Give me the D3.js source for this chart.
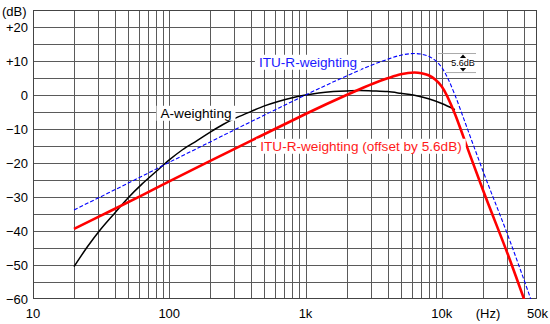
<!DOCTYPE html>
<html>
<head>
<meta charset="utf-8">
<script src="https://cdn.jsdelivr.net/npm/d3@7"></script>
<style>
html,body{margin:0;padding:0;background:#fff;}
svg text{font-family:"Liberation Sans",Arial,sans-serif;}
</style>
</head>
<body>
<svg id="chart" width="550" height="324"></svg>
<script>
// ---- data ----
const aFreq = [20,25,31.5,40,50,63,80,100,125,160,200,250,315,400,500,630,800,1000,1250,1600,2000,2500,3150,4000,5000,6300,8000,10000,12500];
const aDb   = [-50.5,-44.7,-39.4,-34.6,-30.2,-26.2,-22.5,-19.1,-16.1,-13.4,-10.9,-8.6,-6.6,-4.8,-3.2,-1.9,-0.8,0,0.6,1.0,1.2,1.3,1.2,1.0,0.5,-0.1,-1.1,-2.5,-4.3];

const ituFreq = [20,31.5,63,100,200,400,800,1000,2000,3150,4000,5000,6300,7100,8000,9000,10000,12500,14000,16000,20000,31500,45000];
const ituDb   = [-33.8,-29.9,-23.9,-19.8,-13.8,-7.8,-1.9,0,5.6,9.0,10.5,11.7,12.2,12.0,11.4,10.1,8.1,0,-5.3,-11.7,-22.2,-42.7,-60.0];
const ituOffDb = [-39.4,-35.5,-29.5,-25.4,-19.4,-13.4,-7.5,-5.6,0,3.4,4.9,6.1,6.6,6.4,5.8,4.5,2.5,-5.6,-10.9,-17.3,-27.8,-48.3,-65.6];

const xTickVals = [10,100,1000,10000,50000];
const xTickLabels = ["10","100","1k","10k","50k"];
const yTickVals = [20,10,0,-10,-20,-30,-40,-50,-60];
const yTickLabels = ["+20","+10","0","\u221210","\u221220","\u221230","\u221240","\u221250","\u221260"];

const labels = [
  {text:"ITU-R-weighting", color:"#1a1aff"},
  {text:"A-weighting", color:"#000"},
  {text:"ITU-R-weighting (offset by 5.6dB)", color:"#ff1a1a"}
];

// ---- chart ----
const svg = d3.select("#chart");
const L = 33, R = 537, T = 10, B = 299;
const x = d3.scaleLog().domain([10,50000]).range([L,R]);
const y = d3.scaleLinear().domain([-60,25]).range([B,T]);

// grid
const vGrid = [];
for (let dec = 10; dec <= 10000; dec *= 10) for (let k = 1; k <= 9; k++) { const f = dec*k; if (f > 10 && f < 50000) vGrid.push(f); }
for (let k = 1; k <= 4; k++) vGrid.push(10000*k);
const hGrid = d3.range(-55, 25, 5);

svg.append("rect").attr("x",L).attr("y",T).attr("width",R-L).attr("height",B-T).attr("fill","#fff");
svg.append("g").selectAll("line").data(vGrid).join("line")
  .attr("x1",d=>Math.round(x(d))+0.5).attr("x2",d=>Math.round(x(d))+0.5)
  .attr("y1",T).attr("y2",B).attr("stroke","#5a5a5a").attr("stroke-width",1);
svg.append("g").selectAll("line").data(hGrid).join("line")
  .attr("y1",d=>Math.round(y(d))+0.5).attr("y2",d=>Math.round(y(d))+0.5)
  .attr("x1",L).attr("x2",R).attr("stroke","#5a5a5a").attr("stroke-width",1);
svg.append("rect").attr("x",L+0.5).attr("y",T+0.5).attr("width",R-L-1).attr("height",B-T-1)
  .attr("fill","none").attr("stroke","#444").attr("stroke-width",1);

// ticks labels
svg.append("g").selectAll("text").data(yTickVals).join("text")
  .attr("x",28).attr("y",d=>y(d)).attr("dy","0.36em").attr("text-anchor","end")
  .attr("font-size",13).attr("fill","#000").text((d,i)=>yTickLabels[i]);
svg.append("text").attr("x",2).attr("y",16).attr("font-size",13).text("(dB)");
svg.append("g").selectAll("text").data(xTickVals).join("text")
  .attr("x",(d,i)=> i===4 ? 548 : x(d)).attr("y",318).attr("text-anchor",(d,i)=> i===4 ? "end" : "middle")
  .attr("font-size",13).text((d,i)=>xTickLabels[i]);
svg.append("text").attr("x",488).attr("y",318).attr("text-anchor","middle").attr("font-size",13).text("(Hz)");

// clip
svg.append("clipPath").attr("id","clip").append("rect").attr("x",L).attr("y",T).attr("width",R-L).attr("height",B-T);

// annotation (5.6dB)
const ann = svg.append("g");
ann.append("line").attr("x1",438).attr("x2",476).attr("y1",y(12.2)).attr("y2",y(12.2)).attr("stroke","#aaa");
ann.append("line").attr("x1",446).attr("x2",476).attr("y1",y(6.6)).attr("y2",y(6.6)).attr("stroke","#aaa");
const ax = 463;
ann.append("path").attr("d",`M${ax},${y(12.2)+1} l-3.5,4 h7 z`).attr("fill","#000");
ann.append("path").attr("d",`M${ax},${y(6.6)-1} l-3.5,-4 h7 z`).attr("fill","#000");
ann.append("rect").attr("x",452).attr("y",y(9.4)-5).attr("width",22).attr("height",10).attr("fill","#fff");
ann.append("text").attr("x",ax).attr("y",y(9.4)).attr("dy","0.35em").attr("text-anchor","middle")
  .attr("font-size",9).text("5.6dB");

// curves
const line = d3.line().x(d=>x(d[0])).y(d=>y(d[1])).curve(d3.curveMonotoneX);
const g = svg.append("g").attr("clip-path","url(#clip)");
g.append("path").datum(aFreq.map((f,i)=>[f,aDb[i]])).attr("d",line)
  .attr("fill","none").attr("stroke","#000").attr("stroke-width",1.5);
g.append("path").datum(ituFreq.map((f,i)=>[f,ituOffDb[i]])).attr("d",line)
  .attr("fill","none").attr("stroke","#ff0000").attr("stroke-width",2.6);
g.append("path").datum(ituFreq.map((f,i)=>[f,ituDb[i]])).attr("d",line)
  .attr("fill","none").attr("stroke","#0000ff").attr("stroke-width",1.1).attr("stroke-dasharray","4,2");

// labels with white background
const pos = [[308,62],[196,113],[361,146]];
labels.forEach((lb,i)=>{
  const t = svg.append("text").attr("x",pos[i][0]).attr("y",pos[i][1]).attr("dy","0.35em")
    .attr("text-anchor","middle").attr("font-size",13.6).attr("fill",lb.color).text(lb.text);
  const bb = t.node().getBBox();
  svg.insert("rect", () => t.node()).attr("x",bb.x-4).attr("y",bb.y).attr("width",bb.width+8).attr("height",bb.height)
    .attr("fill","#fff");
});
</script>
</body>
</html>
